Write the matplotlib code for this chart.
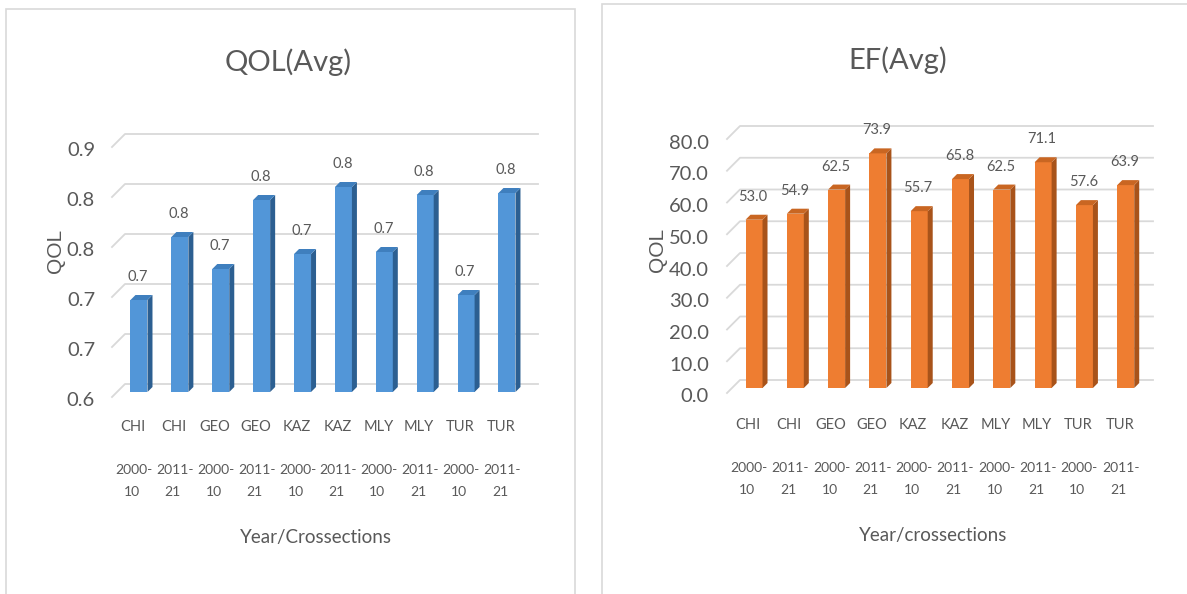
import matplotlib
matplotlib.use("Agg")
import matplotlib.pyplot as plt
from matplotlib.patches import Polygon, Rectangle
from matplotlib.transforms import blended_transform_factory

# data
countries = ["CHI", "CHI", "GEO", "GEO", "KAZ", "KAZ", "MLY", "MLY", "TUR", "TUR"]
period_start = ["2000-", "2011-"] * 5
period_end = ["10", "21"] * 5
qol_avg = [0.692, 0.755, 0.723, 0.792, 0.738, 0.805, 0.740, 0.797, 0.697, 0.799]
ef_avg = [53.0, 54.9, 62.5, 73.9, 55.7, 65.8, 62.5, 71.1, 57.6, 63.9]
qol_ticks = [0.6, 0.65, 0.7, 0.75, 0.8, 0.85]
qol_tick_labels = ["0.6", "0.7", "0.7", "0.8", "0.8", "0.9"]
ef_ticks = [0, 10, 20, 30, 40, 50, 60, 70, 80]
ef_tick_labels = ["0.0", "10.0", "20.0", "30.0", "40.0", "50.0", "60.0", "70.0", "80.0"]

W, H = 1187, 594
plt.rcParams['font.family'] = ['Lato', 'DejaVu Sans']
TXT = '#595959'
GRID = '#d9d9d9'

fig = plt.figure(figsize=(W / 100, H / 100), dpi=100)


def fx(px):
    return px / W


def fy(py):
    return 1 - py / H


def panel(ax_px, xlim, ylim, values, ticks, tick_labels, colors,
          title, title_xy, ylab_xy, xlabel, xlab_xy, lab_gap, cat_y):
    l, t, r, b = ax_px
    ax = fig.add_axes([fx(l), fy(b), (r - l) / W, (b - t) / H])
    ax.set_xlim(*xlim)
    ax.set_ylim(*ylim)
    ax.axis('off')
    sx = (r - l) / (xlim[1] - xlim[0])
    sy = (b - t) / (ylim[1] - ylim[0])
    bdx, bdy = 5 / sx, 5 / sy         # bar depth
    x0 = xlim[0]
    xend = xlim[1] - 7 / sx
    base = ticks[0]

    # back-wall gridlines with the little floor diagonal
    for tk, lab in zip(ticks, tick_labels):
        ax.plot([x0, x0 + 13 / sx, xend],
                [tk - 5 / sy, tk + 8 / sy, tk + 8 / sy],
                color=GRID, lw=1.3, zorder=1, clip_on=False)
        ax.text(x0 - lab_gap / sx, tk - 9 / sy, lab, ha='right', va='center',
                fontsize=14.5, color=TXT, clip_on=False)

    front, side, top = colors
    w = 17 / sx
    xs = list(range(len(values)))
    ax.bar(xs, [v - base for v in values], bottom=base, width=w,
           color=front, zorder=3, linewidth=0)
    for x, v in zip(xs, values):
        xr = x + w / 2
        xl = x - w / 2
        ax.add_patch(Polygon([(xr, base), (xr + bdx, base + bdy),
                              (xr + bdx, v + bdy), (xr, v)],
                             closed=True, color=side, zorder=3, lw=0))
        ax.add_patch(Polygon([(xl, v), (xr, v), (xr + bdx, v + bdy),
                              (xl + bdx, v + bdy)],
                             closed=True, color=top, zorder=3, lw=0))
        ax.text(x - 1 / sx, v + 23 / sy, "%.1f" % v, ha='center', va='center',
                fontsize=10.5, color=TXT, zorder=4)

    trans = blended_transform_factory(ax.transData, fig.transFigure)
    for x, c, p0, p1 in zip(xs, countries, period_start, period_end):
        ax.text(x - 6 / sx, fy(cat_y), c, transform=trans, ha='center',
                va='center', fontsize=10.5, color=TXT)
        ax.text(x - 5 / sx, fy(cat_y + 43), p0, transform=trans, ha='center',
                va='center', fontsize=10, color=TXT)
        ax.text(x - 7 / sx, fy(cat_y + 65), p1, transform=trans, ha='center',
                va='center', fontsize=10, color=TXT)

    fig.text(fx(title_xy[0]), fy(title_xy[1]), title, ha='center',
             va='center', fontsize=21, color=TXT)
    fig.text(fx(ylab_xy[0]), fy(ylab_xy[1]), "QOL", ha='center', va='center',
             rotation=90, fontsize=15, color=TXT, family='Liberation Sans')
    fig.text(fx(xlab_xy[0]), fy(xlab_xy[1]), xlabel, ha='center',
             va='center', fontsize=13.5, color=TXT)
    return ax


panel((112, 110, 545, 400), (-0.66, 9.93), (0.592, 0.882),
      qol_avg, qol_ticks, qol_tick_labels,
      ('#5296d8', '#2c5f91', '#3f7fbe'),
      "QOL(Avg)", (288, 62), (55, 251), "Year/Crossections", (316, 537), 17, 427)

panel((727, 110, 1160, 400), (-0.654, 9.83), (-3.78, 87.56),
      ef_avg, ef_ticks, ef_tick_labels,
      ('#ee7d31', '#a8531a', '#c96622'),
      "EF(Avg)", (898, 60), (658, 250), "Year/crossections", (933, 535), 18, 425)

# panel frames
fig.add_artist(Rectangle((fx(6), fy(600)), fx(575) - fx(6), fy(9) - fy(600),
                         transform=fig.transFigure, fill=False,
                         edgecolor=GRID, lw=1.2))
fig.add_artist(Rectangle((fx(602), fy(600)), fx(1195) - fx(602), fy(4) - fy(600),
                         transform=fig.transFigure, fill=False,
                         edgecolor=GRID, lw=1.2))

fig.savefig("out.png", dpi=100, facecolor='white')
